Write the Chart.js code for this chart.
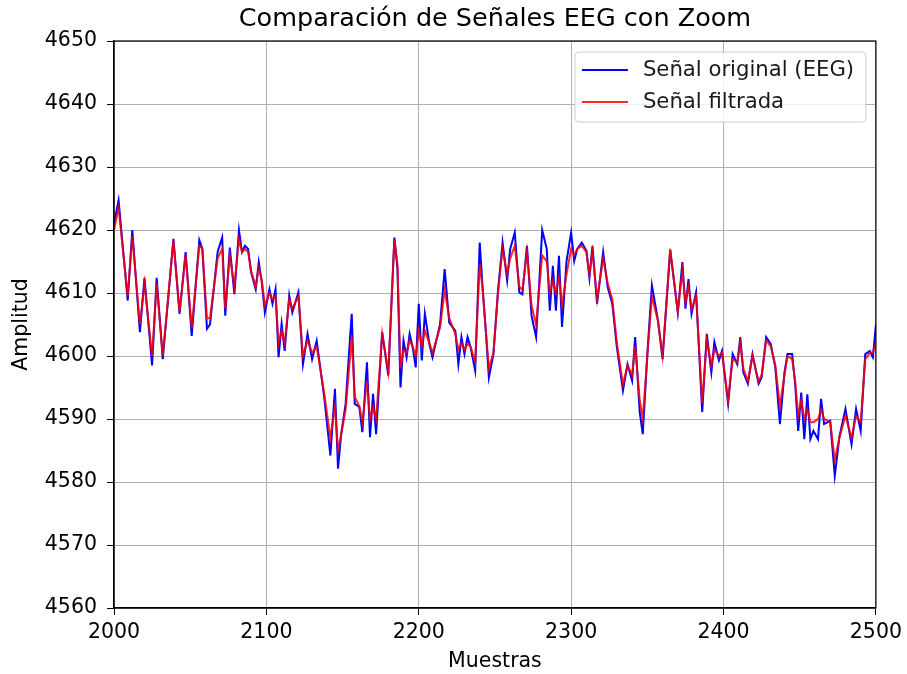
<!DOCTYPE html>
<html>
<head>
<meta charset="utf-8">
<script src="https://cdn.jsdelivr.net/npm/chart.js@4/dist/chart.umd.min.js"></script>
<style>
html,body{margin:0;padding:0;background:#fff;}
#wrap{width:907px;height:674px;}
</style>
</head>
<body>
<div id="wrap"><canvas id="c" width="907" height="674"></canvas></div>
<script>
const chartTitle = "Comparación de Señales EEG con Zoom";
const xTitle = "Muestras";
const yTitle = "Amplitud";
const seriesNames = ["Señal original (EEG)", "Señal filtrada"];
const xTicks = [2000, 2100, 2200, 2300, 2400, 2500];
const yTicks = [4560, 4570, 4580, 4590, 4600, 4610, 4620, 4630, 4640, 4650];

const samples = [2000,2003,2009,2012,2017,2020,2025,2028,2032,2039,2043,2047,2051,2056,2058,2061,2063,2068,2071,2073,2076,2079,2082,2084,2086,2088,2090,2093,2095,2097,2099,2102,2104,2106,2108,2110,2112,2115,2117,2121,2124,2127,2130,2133,2138,2142,2145,2147,2149,2152,2156,2158,2161,2163,2166,2168,2170,2172,2176,2180,2184,2186,2188,2190,2192,2194,2196,2198,2200,2202,2204,2207,2209,2214,2217,2220,2224,2226,2228,2230,2232,2234,2237,2240,2242,2244,2246,2249,2252,2255,2258,2260,2263,2266,2268,2271,2274,2277,2279,2281,2284,2286,2288,2290,2292,2294,2297,2300,2302,2304,2307,2310,2312,2314,2317,2321,2324,2327,2330,2334,2337,2340,2342,2345,2347,2350,2353,2357,2360,2365,2370,2373,2375,2377,2379,2382,2386,2389,2392,2394,2397,2399,2403,2406,2409,2411,2413,2416,2419,2423,2425,2428,2431,2434,2437,2440,2442,2445,2447,2449,2451,2453,2455,2457,2459,2462,2464,2466,2470,2473,2476,2480,2484,2487,2490,2493,2496,2498,2500];

const original = [4621,4624.7,4608.8,4620,4603.8,4612.4,4598.5,4612.4,4599.5,4618.6,4606.7,4616.5,4603.2,4618.4,4617,4604.3,4605,4616.5,4618.8,4606.4,4617.2,4609.8,4620,4616.5,4617.5,4617,4613.3,4610.6,4614.9,4611.7,4606.9,4610.6,4608.3,4610.6,4599.8,4605.1,4600.8,4609.6,4606.9,4610.1,4598.7,4603.5,4599.5,4602.4,4593.4,4584.2,4594.8,4582.1,4587.4,4592.4,4606.7,4592.4,4591.9,4587.9,4599,4587.1,4594,4587.6,4603.8,4596.9,4618.8,4614,4595,4602.4,4599.8,4603.5,4601.4,4598.2,4608.3,4599.3,4606.7,4601.9,4599.8,4605.1,4613.8,4605.3,4604,4598.7,4603,4600.3,4603,4601.4,4597.7,4618,4610.4,4604,4596.6,4600.3,4610.4,4618,4612,4617,4619.6,4610.1,4609.8,4617.5,4606.4,4603,4611.4,4620,4617,4607.2,4614.3,4607.2,4615.9,4604.6,4615.1,4619.6,4615.1,4617,4618,4616.7,4612.4,4617.5,4608.3,4616.5,4610.9,4608.3,4601.4,4594.5,4598.7,4596.1,4603,4591.1,4587.6,4600.3,4611.2,4605.6,4599.5,4616.8,4606.9,4614.9,4607.5,4612.2,4606.7,4610.1,4591.1,4603.5,4597.4,4602.2,4599.3,4600.8,4592.4,4600.3,4598.7,4603,4597.4,4595.6,4600.3,4595.6,4596.6,4603,4601.9,4598.2,4589.2,4597.4,4600.3,4600.3,4595.6,4588.1,4594.2,4586.8,4593.9,4586.8,4588.1,4586.8,4593.2,4589.2,4589.7,4581,4587.1,4591.6,4586,4591.6,4588.1,4600.3,4600.8,4599.8,4605];

const filtered = [4620,4623.5,4609.5,4619,4605,4611.5,4600,4611.5,4600,4618.3,4607,4616,4604.5,4617.5,4617,4606,4606,4615.5,4617,4607.5,4616,4611,4618.5,4616.5,4617,4616.5,4613.5,4611,4614,4612,4608,4610,4609,4609.5,4602,4604,4602,4609,4607.5,4609.5,4600,4602.5,4600.5,4601.5,4594,4587,4592,4585,4587.5,4591.5,4603,4593.5,4592,4589.5,4596,4590,4592,4590,4603.5,4597.5,4618.5,4614.5,4598,4601,4600.5,4602.5,4601.5,4600,4604,4601.5,4604,4602,4600.5,4604.5,4610.5,4606,4603.5,4601,4602,4601,4602,4601.5,4599,4614.5,4610.5,4604,4598,4600.5,4610,4617,4613,4615.5,4617.5,4611,4610.5,4616.5,4608,4605,4610.5,4616,4615,4610,4612,4610,4612.5,4608,4613,4617,4616,4617,4617.5,4616.5,4613,4616.5,4609,4615.5,4611.5,4609,4602,4595.5,4598.5,4597,4601.5,4593,4590,4600,4609.5,4605.5,4600,4617,4607,4613.5,4608.5,4611,4607.5,4609.5,4592.5,4602.5,4598.5,4601,4600,4600.5,4593,4599.5,4599,4602,4598,4596,4600,4596,4597,4602.5,4601.5,4598.5,4592,4597,4600,4599.5,4596,4590.5,4593,4590,4591.5,4589.5,4589.5,4590,4591.5,4590,4589.5,4583.5,4587,4590.5,4587,4590.5,4589.5,4599.5,4600.5,4600.5,4602];

const seriesColors = ["#0000ff", "rgba(255,0,0,0.85)"];
const FONT = "'DejaVu Sans', 'Liberation Sans', sans-serif";

const toPoints = (xs, ys) => xs.map((x, i) => ({x: x, y: ys[i]}));

const titleCenterPlugin = {
  id: 'titleCenter',
  afterLayout(chart) {
    const t = chart.titleBlock;
    if (t) { t.left = chart.chartArea.left; t.right = chart.chartArea.right; }
  }
};

const framePlugin = {
  id: 'frame',
  afterDatasetsDraw(chart) {
    const {ctx, chartArea: a} = chart;
    ctx.save();
    ctx.strokeStyle = '#000';
    ctx.lineWidth = 1.2;
    ctx.strokeRect(a.left, a.top, a.right - a.left, a.bottom - a.top);
    ctx.restore();
  }
};

const legendPlugin = {
  id: 'boxLegend',
  afterDraw(chart) {
    const {ctx, chartArea: a} = chart;
    const bx = a.right - 301, by = a.top + 11, bw = 291, bh = 70;
    ctx.save();
    ctx.beginPath();
    const r = 4;
    ctx.moveTo(bx + r, by);
    ctx.lineTo(bx + bw - r, by);
    ctx.quadraticCurveTo(bx + bw, by, bx + bw, by + r);
    ctx.lineTo(bx + bw, by + bh - r);
    ctx.quadraticCurveTo(bx + bw, by + bh, bx + bw - r, by + bh);
    ctx.lineTo(bx + r, by + bh);
    ctx.quadraticCurveTo(bx, by + bh, bx, by + bh - r);
    ctx.lineTo(bx, by + r);
    ctx.quadraticCurveTo(bx, by, bx + r, by);
    ctx.closePath();
    ctx.fillStyle = 'rgba(255,255,255,0.8)';
    ctx.fill();
    ctx.strokeStyle = '#cccccc';
    ctx.lineWidth = 1;
    ctx.stroke();
    ctx.font = "21.2px " + FONT;
    ctx.textBaseline = 'middle';
    ctx.textAlign = 'left';
    chart.data.datasets.forEach((ds, i) => {
      const y = by + 18 + i * 32;
      ctx.beginPath();
      ctx.moveTo(bx + 7, y);
      ctx.lineTo(bx + 53, y);
      ctx.strokeStyle = ds.borderColor;
      ctx.lineWidth = 2;
      ctx.stroke();
      ctx.fillStyle = '#1a1a1a';
      ctx.fillText(ds.label, bx + 68, y);
    });
    ctx.restore();
  }
};

new Chart(document.getElementById('c'), {
  type: 'line',
  data: {
    datasets: [
      {label: seriesNames[0], data: toPoints(samples, original), borderColor: seriesColors[0], borderWidth: 2, pointRadius: 0, tension: 0, fill: false, order: 2},
      {label: seriesNames[1], data: toPoints(samples, filtered), borderColor: seriesColors[1], borderWidth: 2, pointRadius: 0, tension: 0, fill: false, order: 1}
    ]
  },
  options: {
    responsive: false,
    animation: false,
    layout: {padding: {left: 0, right: 30, top: 0, bottom: 0}},
    plugins: {
      legend: {display: false},
      tooltip: {enabled: false},
      title: {display: true, text: chartTitle, color: '#000', font: {family: FONT, size: 25.5, weight: 'normal', lineHeight: 1.2}, padding: {top: 3.7, bottom: 6.7}}
    },
    scales: {
      x: {
        type: 'linear', min: 2000, max: 2500,
        afterBuildTicks: (s) => { s.ticks = xTicks.map(v => ({value: v})); },
        afterFit: (s) => { s.height = 66; },
        grid: {color: '#b0b0b0', lineWidth: 1, tickLength: 7, tickColor: '#000'},
        border: {color: '#000', width: 1.2},
        ticks: {color: '#000', font: {family: FONT, size: 20.5}, padding: 5, maxRotation: 0, callback: (v) => String(v)},
        title: {display: true, text: xTitle, color: '#000', font: {family: FONT, size: 20.5}, padding: {top: 0, bottom: 0}}
      },
      y: {
        type: 'linear', min: 4560, max: 4650,
        afterBuildTicks: (s) => { s.ticks = yTicks.map(v => ({value: v})); },
        afterFit: (s) => { s.width = 114; },
        grid: {color: '#b0b0b0', lineWidth: 1, tickLength: 7, tickColor: '#000'},
        border: {color: '#000', width: 1.2},
        ticks: {color: '#000', font: {family: FONT, size: 20.5}, padding: 10, callback: (v) => String(v)},
        title: {display: true, text: yTitle, color: '#000', font: {family: FONT, size: 20.5}, padding: {top: 9, bottom: 0}}
      }
    }
  },
  plugins: [titleCenterPlugin, framePlugin, legendPlugin]
});
</script>
</body>
</html>
